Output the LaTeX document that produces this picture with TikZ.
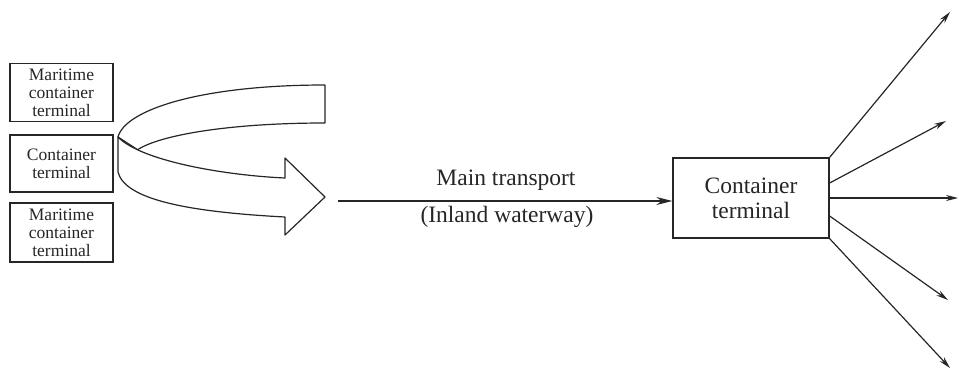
\documentclass[tikz,border=0pt]{standalone}
\usepackage{fontspec}
\setmainfont{Liberation Serif}
\usetikzlibrary{arrows.meta}

\tikzset{
  termbox/.style={draw, line width=1.3pt, align=center, inner sep=0pt, minimum width=103pt, font=\fontsize{17.5}{18}\selectfont},
  hubbox/.style={draw, line width=1.3pt, align=center, inner sep=0pt, minimum width=156pt, minimum height=80pt, font=\fontsize{23.5}{25}\selectfont},
  lbl/.style={anchor=base, inner sep=0pt, font=\fontsize{23.5}{25}\selectfont},
  ribbon/.style={draw, fill=white, line width=1.2pt, line join=round},
  flow/.style={-{Stealth[length=16pt,width=8pt]}, line width=1.3pt},
  branch/.style={-{Stealth[length=12pt,width=6pt]}, line width=1.2pt}
}

\begin{document}
\begin{tikzpicture}[x=1pt, y=-1pt, black!85]
\useasboundingbox (0,0) rectangle (959,372);

\node [termbox, minimum height=58pt] (mar1) at (61.5,92.5) {Maritime\\container\\terminal};
\node [termbox, minimum height=57pt] (cont) at (61.5,163.5) {Container\\terminal};
\node [termbox, minimum height=59pt] (mar2) at (61.5,232.5) {Maritime\\container\\terminal};

\draw [ribbon] (325,85) -- (325,123) .. controls (230,123) and (160,135) .. (137.6,149.7)
  -- (118,137) .. controls (125,110) and (200,85) .. (325,85) -- cycle;
\draw [ribbon] (118,137) .. controls (140,160) and (220,175) .. (285,178) -- (285,158)
  -- (325,197) -- (285,235) -- (285,217) .. controls (190,212) and (125,200) .. (118,172) -- cycle;

\node [hubbox] (ct) at (751,198) {Container\\terminal};

\coordinate (start) at (338,201);
\draw [flow] (start) -- (start -| ct.west);
\node [lbl] (main) at (506,185) {Main transport};
\node [lbl] (inland) at (507,222) {(Inland waterway)};

\coordinate (d1) at (950,12);
\coordinate (d2) at (946,121);
\coordinate (d3) at (958,198);
\coordinate (d4) at (948,300);
\coordinate (d5) at (950,368);

\path [branch] (ct.north east) edge (d1) ([yshift=15pt]ct.east) edge (d2)
  (ct.east) edge (d3) ([yshift=-18pt]ct.east) edge (d4) (ct.south east) edge (d5);

\end{tikzpicture}
\end{document}
